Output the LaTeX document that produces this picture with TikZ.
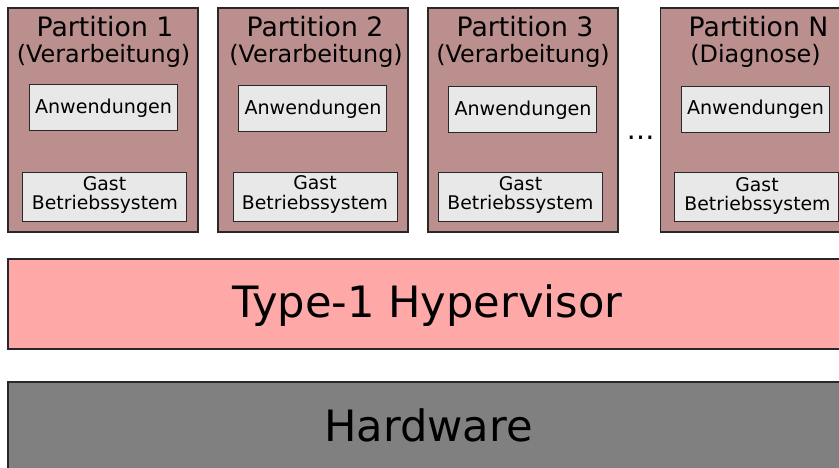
\documentclass[tikz,border=0pt]{standalone}
\usepackage{fontspec}
\setmainfont{DejaVu Sans}
\definecolor{partfill}{RGB}{188,143,143}
\definecolor{innerfill}{RGB}{232,232,232}
\definecolor{hypfill}{RGB}{255,168,168}
\definecolor{hwfill}{RGB}{128,128,128}
\definecolor{edge}{RGB}{40,40,40}
\tikzset{
  partbox/.style={draw=edge, fill=partfill, line width=1.1pt, rectangle, inner sep=0pt,
    minimum width=190pt, minimum height=224pt},
  appbox/.style={draw=edge, fill=innerfill, line width=0.9pt, rectangle, inner sep=0pt,
    minimum width=148pt, minimum height=46pt},
  osbox/.style={draw=edge, fill=innerfill, line width=0.9pt, rectangle, inner sep=0pt,
    minimum width=164pt, minimum height=49pt},
  layerbox/.style={draw=edge, line width=1.1pt, rectangle, inner sep=0pt,
    minimum width=841pt, minimum height=90pt},
  ttl/.style={anchor=base, inner sep=0pt, font=\fontsize{26.7}{28}\selectfont},
  sub/.style={anchor=base, inner sep=0pt, font=\fontsize{23.9}{26}\selectfont},
  apptxt/.style={anchor=base, inner sep=0pt, font=\fontsize{19.1}{21}\selectfont},
  ostxt/.style={anchor=base, inner sep=0pt, font=\fontsize{18.8}{20}\selectfont},
  bigtxt/.style={anchor=base, inner sep=0pt, font=\fontsize{43.2}{46}\selectfont},
}
\begin{document}
\begin{tikzpicture}[x=1pt,y=-1pt]
\useasboundingbox (0,0) rectangle (839,468);
\clip (0,0) rectangle (839,468);
% Partition 1
\node[partbox] (p1) at (103,120) {};
\node[ttl] (p1t) at (105,36.7) {Partition 1};
\node[sub] (p1s) at (103.5,63) {(Verarbeitung)};
\node[appbox] (p1a) at (103,107) {};
\node[apptxt] (p1at) at (103.5,113.3) {Anwendungen};
\node[osbox] (p1o) at (104.5,197) {};
\node[ostxt] (p1og) at (104.5,190.5) {Gast};
\node[ostxt] (p1ob) at (105,210) {Betriebssystem};
% Partition 2
\node[partbox] (p2) at (313,120) {};
\node[ttl] (p2t) at (315,36.7) {Partition 2};
\node[sub] (p2s) at (316,63) {(Verarbeitung)};
\node[appbox] (p2a) at (312.5,108.5) {};
\node[apptxt] (p2at) at (313,114.5) {Anwendungen};
\node[osbox] (p2o) at (315,196.5) {};
\node[ostxt] (p2og) at (315,190) {Gast};
\node[ostxt] (p2ob) at (315,209.5) {Betriebssystem};
% Partition 3
\node[partbox] (p3) at (523,120) {};
\node[ttl] (p3t) at (525,36.7) {Partition 3};
\node[sub] (p3s) at (523,63) {(Verarbeitung)};
\node[appbox] (p3a) at (522.5,109.5) {};
\node[apptxt] (p3at) at (523,115.5) {Anwendungen};
\node[osbox] (p3o) at (520.5,197) {};
\node[ostxt] (p3og) at (520.5,190.5) {Gast};
\node[ostxt] (p3ob) at (520.5,210) {Betriebssystem};
% dots
\node[anchor=base, inner sep=0pt, font=\fontsize{28}{30}\selectfont] (dots) at (640.5,140) {…};
% Partition N
\node[partbox] (pn) at (755.5,120) {};
\node[ttl] (pnt) at (758.5,36.7) {Partition N};
\node[sub] (pns) at (755.5,63) {(Diagnose)};
\node[appbox] (pna) at (755,109) {};
\node[apptxt] (pnat) at (755.5,115) {Anwendungen};
\node[osbox] (pno) at (756,197) {};
\node[ostxt] (pnog) at (757,191.5) {Gast};
\node[ostxt] (pnob) at (757.5,210.7) {Betriebssystem};
% Hypervisor
\node[layerbox, fill=hypfill] (hyp) at (428.5,304) {};
\node[bigtxt] (hypt) at (427.5,317.3) {Type-1 Hypervisor};
% Hardware
\node[layerbox, fill=hwfill, minimum height=140pt] (hw) at (428.5,452) {};
\node[bigtxt] (hwt) at (428.5,441.7) {Hardware};
\end{tikzpicture}
\end{document}
